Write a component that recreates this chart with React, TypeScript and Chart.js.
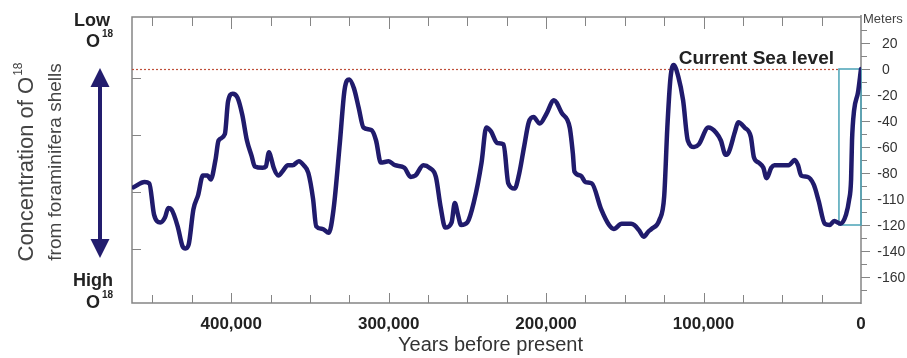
import { useEffect, useRef } from "react";
import { Chart, registerables } from "chart.js";

Chart.register(...registerables);

// Years before present (x) and sea level in meters (y)
const yearsBP = [
  462000, 455000, 452000, 449000, 445000, 442000, 440000, 438000, 434000, 431000,
  429000, 427000, 424000, 421000, 418000, 415000, 413000, 410000, 408000, 404000,
  402000, 399000, 396000, 393000, 390000, 387000, 385000, 380000, 378000, 376000,
  375000, 373000, 370000, 367000, 364000, 361000, 357000, 354000, 351000, 348000,
  346000, 342000, 338000, 335000, 331000, 328000, 325000, 322000, 319000, 316000,
  311000, 308000, 305000, 300000, 296000, 290000, 286000, 283000, 278000, 274000,
  270000, 267000, 264000, 260000, 258000, 256000, 254000, 250000, 246000, 241000,
  238000, 235000, 231000, 227000, 224000, 220000, 217000, 214000, 211000, 208000,
  204000, 200000, 195000, 190000, 185000, 183000, 182000, 178000, 175000, 171000,
  165000, 160000, 157000, 152000, 146000, 144000, 141000, 138000, 135000, 133000,
  128000, 125000, 123000, 121000, 119000, 116000, 113000, 110000, 106000, 103000,
  97000, 92000, 89000, 86000, 84000, 80000, 78000, 74000, 70000, 68000,
  65000, 62000, 60000, 57000, 55000, 46000, 42000, 40000, 38000, 34000,
  30000, 27000, 23000, 20000, 17000, 13000, 9500, 7600, 6300, 5700,
  4400, 1900, 0,
];
const seaLevelM = [
  -91, -87, -88, -112, -118, -114, -107, -108, -121, -136,
  -138, -135, -108, -97, -82, -82, -85, -70, -55, -50,
  -25, -19, -22, -35, -55, -67, -75, -76, -75, -64,
  -67, -76, -82, -78, -74, -74, -71, -74, -80, -100,
  -121, -123, -126, -108, -57, -16, -8, -15, -30, -45,
  -47, -55, -72, -71, -74, -76, -83, -82, -74, -76,
  -83, -106, -122, -118, -103, -112, -120, -118, -103, -72,
  -45, -48, -57, -58, -88, -92, -80, -60, -41, -37,
  -42, -35, -24, -34, -45, -65, -79, -82, -87, -88,
  -108, -120, -123, -119, -119, -120, -124, -129, -125, -123,
  -116, -98, -45, -7, 3, -6, -24, -55, -60, -58,
  -45, -49, -55, -66, -64, -48, -41, -45, -52, -68,
  -72, -76, -84, -76, -74, -74, -70, -74, -82, -83,
  -89, -101, -119, -120, -117, -119, -112, -101, -85, -55,
  -32, -18, 0,
];

// Axis ticks / labels
const xTickValues = [400000, 300000, 200000, 100000, 0];
const xTickLabels = ["400,000", "300,000", "200,000", "100,000", "0"];
const yTickValues = [20, 0, -20, -40, -60, -80, -100, -120, -140, -160];
const yTickLabels = ["20", "0", "-20", "-40", "-60", "-80", "-110", "-120", "-140", "-160"];
const o18TickValues = [1, 2, 3, 4];
const currentSeaLevel = 0;
const boxStartYears = 14000;
const boxLowM = -120;

const FONT = '"Liberation Sans", Arial, sans-serif';

const decor = {
  id: "decor",
  beforeDatasetsDraw(chart: any) {
    const { ctx, chartArea: a, scales } = chart;
    const xs = scales.x;
    const ys = scales.y;
    ctx.save();
    // frame
    ctx.strokeStyle = "#858585";
    ctx.lineWidth = 1.5;
    ctx.beginPath();
    ctx.moveTo(a.right, a.top);
    ctx.lineTo(a.left, a.top);
    ctx.lineTo(a.left, a.bottom);
    ctx.lineTo(a.right, a.bottom);
    ctx.stroke();
    // right axis line
    ctx.beginPath();
    ctx.moveTo(a.right, a.top - 2);
    ctx.lineTo(a.right, a.bottom + 1);
    ctx.stroke();
    // x ticks every 25k (top and bottom, inward)
    ctx.lineWidth = 1;
    for (let v = 25000; v <= 463000; v += 25000) {
      const px = Math.round(xs.getPixelForValue(v)) + 0.5;
      if (px <= a.left + 2) continue;
      const longT = v % 100000 === 0;
      ctx.beginPath();
      ctx.moveTo(px, a.top);
      ctx.lineTo(px, a.top + (longT ? 12 : 9));
      ctx.moveTo(px, a.bottom);
      ctx.lineTo(px, a.bottom - (longT ? 10 : 8));
      ctx.stroke();
    }
    // left O18 ticks
    const os = scales.o18;
    for (const v of o18TickValues) {
      const py = Math.round(os.getPixelForValue(v)) + 0.5;
      ctx.beginPath();
      ctx.moveTo(a.left, py);
      ctx.lineTo(a.left + 9, py);
      ctx.stroke();
    }
    // right meters ticks
    for (let m = -170; m <= 30; m += 10) {
      const py = Math.round(ys.getPixelForValue(m)) + 0.5;
      const major = m % 20 === 0;
      ctx.beginPath();
      ctx.moveTo(a.right, py);
      ctx.lineTo(a.right + (major ? 9 : 6), py);
      ctx.stroke();
    }
    // current sea level dotted line
    const y0 = ys.getPixelForValue(currentSeaLevel);
    ctx.strokeStyle = "#c0503a";
    ctx.lineWidth = 1.2;
    ctx.setLineDash([2, 2]);
    ctx.beginPath();
    ctx.moveTo(a.left, Math.round(y0) + 0.5);
    ctx.lineTo(xs.getPixelForValue(boxStartYears), Math.round(y0) + 0.5);
    ctx.stroke();
    ctx.setLineDash([]);
    // teal box
    const bx0 = xs.getPixelForValue(boxStartYears);
    const bx1 = xs.getPixelForValue(0);
    const by1 = ys.getPixelForValue(boxLowM);
    ctx.strokeStyle = "#4aa3b6";
    ctx.lineWidth = 1.5;
    ctx.strokeRect(bx0, y0, bx1 - bx0, by1 - y0);
    ctx.restore();
  },
  afterDatasetsDraw(chart: any) {
    const { ctx, chartArea: a, scales } = chart;
    const xs = scales.x;
    const ys = scales.y;
    ctx.save();
    // right tick labels
    ctx.fillStyle = "#333";
    ctx.font = `14px ${FONT}`;
    ctx.textBaseline = "middle";
    ctx.textAlign = "left";
    const minusW = ctx.measureText("-").width;
    yTickValues.forEach((v, i) => {
      const lab = yTickLabels[i];
      const py = ys.getPixelForValue(v);
      const x = 882 - (lab.startsWith("-") ? minusW : 0);
      ctx.fillText(lab, x, py + 1);
    });
    ctx.font = `13px ${FONT}`;
    ctx.fillStyle = "#444";
    ctx.fillText("Meters", 863, 19);
    // x tick labels
    ctx.fillStyle = "#222";
    ctx.font = `bold 17px ${FONT}`;
    ctx.textAlign = "center";
    ctx.textBaseline = "alphabetic";
    xTickValues.forEach((v, i) => {
      ctx.fillText(xTickLabels[i], xs.getPixelForValue(v), 329);
    });
    ctx.font = `20px ${FONT}`;
    ctx.fillStyle = "#333";
    ctx.fillText("Years before present", (a.left + a.right) / 2 - 6, 351);
    // Current sea level label
    ctx.font = `bold 19px ${FONT}`;
    ctx.fillStyle = "#222";
    ctx.textAlign = "right";
    ctx.fillText("Current Sea level", 834, 64);
    // Low / High labels
    ctx.textAlign = "center";
    ctx.font = `bold 18px ${FONT}`;
    ctx.fillText("Low", 92, 26);
    ctx.fillText("High", 93, 286);
    ctx.textAlign = "left";
    ctx.fillText("O", 86, 47);
    ctx.fillText("O", 86, 308);
    ctx.font = `bold 10px ${FONT}`;
    ctx.fillText("18", 102, 37);
    ctx.fillText("18", 102, 298);
    // arrow
    ctx.fillStyle = "#231d6e";
    ctx.strokeStyle = "#231d6e";
    ctx.lineWidth = 4;
    ctx.beginPath();
    ctx.moveTo(100, 82);
    ctx.lineTo(100, 244);
    ctx.stroke();
    ctx.beginPath();
    ctx.moveTo(100, 68);
    ctx.lineTo(109.5, 87);
    ctx.lineTo(90.5, 87);
    ctx.closePath();
    ctx.fill();
    ctx.beginPath();
    ctx.moveTo(100, 258);
    ctx.lineTo(109.5, 239);
    ctx.lineTo(90.5, 239);
    ctx.closePath();
    ctx.fill();
    // rotated left title
    const drawRot = (cx: number, cy: number, main: string, sup: string, size: number) => {
      ctx.save();
      ctx.translate(cx, cy);
      ctx.rotate(-Math.PI / 2);
      ctx.fillStyle = "#444";
      ctx.textAlign = "left";
      ctx.textBaseline = "alphabetic";
      ctx.font = `${size}px ${FONT}`;
      const w1 = ctx.measureText(main).width;
      ctx.font = `12px ${FONT}`;
      const w2 = sup ? ctx.measureText(sup).width + 1 : 0;
      const total = w1 + w2;
      ctx.font = `${size}px ${FONT}`;
      ctx.fillText(main, -total / 2, 0);
      if (sup) {
        ctx.font = `12px ${FONT}`;
        ctx.fillText(sup, -total / 2 + w1 + 1, -11);
      }
      ctx.restore();
    };
    drawRot(33, 162, "Concentration of O", "18", 22);
    drawRot(61, 162, "from foraminifera shells", "", 19);
    ctx.restore();
  },
};

export default function App() {
  const ref = useRef<HTMLCanvasElement>(null);
  useEffect(() => {
    const chart = new Chart(ref.current as HTMLCanvasElement, {
      type: "line",
      data: {
        datasets: [
          {
            data: yearsBP.map((x, i) => ({ x, y: seaLevelM[i] })),
            borderColor: "#201b6c",
            borderWidth: 4.5,
            pointRadius: 0,
            cubicInterpolationMode: "monotone",
            fill: false,
            borderJoinStyle: "round",
            borderCapStyle: "round",
          } as any,
        ],
      },
      options: {
        responsive: false,
        animation: false,
        layout: { padding: { left: 132, right: 46, top: 17, bottom: 55 } },
        plugins: { legend: { display: false }, tooltip: { enabled: false } },
        scales: {
          x: { type: "linear", min: 0, max: 463000, reverse: true, display: false },
          y: { type: "linear", min: -180, max: 40, display: false },
          o18: { type: "linear", axis: "y", min: 0.05, max: 5.07, display: false },
        },
      } as any,
      plugins: [decor],
    });
    return () => chart.destroy();
  }, []);
  return (
    <div style={{ position: "fixed", left: 0, top: 0, width: 907, height: 358, background: "#fff" }}>
      <canvas ref={ref} width={907} height={358} style={{ display: "block" }} />
    </div>
  );
}
